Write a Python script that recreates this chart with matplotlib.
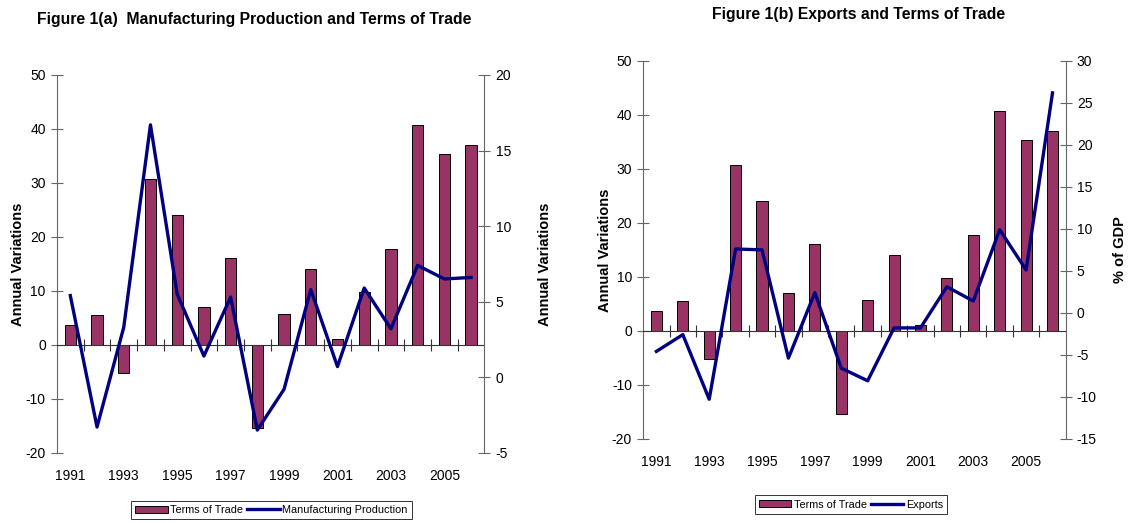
"""
Figure 1(a)/(b): terms of trade vs manufacturing production and exports
"""

import matplotlib
matplotlib.use("Agg")
import matplotlib.pyplot as plt

plt.rcParams["font.family"] = ["Liberation Sans", "DejaVu Sans"]
plt.rcParams["axes.unicode_minus"] = False

# data
# -----------------
years = [1991, 1992, 1993, 1994, 1995, 1996, 1997, 1998,
         1999, 2000, 2001, 2002, 2003, 2004, 2005, 2006]
terms_of_trade = [3.6, 5.5, -5.3, 30.7, 24.1, 7.0, 16.0, -15.5,
                  5.7, 14.1, 1.1, 9.8, 17.7, 40.8, 35.3, 37.0]
manuf_production = [5.4, -3.3, 3.3, 16.7, 5.5, 1.4, 5.3, -3.5,
                    -0.8, 5.8, 0.7, 5.9, 3.2, 7.4, 6.5, 6.6]
exports = [-4.6, -2.6, -10.3, 7.6, 7.5, -5.4, 2.4, -6.6,
           -8.1, -1.8, -1.8, 3.1, 1.4, 9.9, 5.1, 26.2]

bar_color = "#993366"
line_color = "#000080"
axis_gray = "#666666"

fig = plt.figure(figsize=(11.3, 5.23), dpi=100)


def draw_panel(rect, line_vals, right_lim, right_step, title, right_label, line_label,
               legend_xy, title_xy, right_label_x):
    ax = fig.add_axes(rect)
    x = list(range(len(years)))
    bars = ax.bar(x, terms_of_trade, width=0.42, color=bar_color,
                  edgecolor="black", linewidth=0.7, label="Terms of Trade")
    ax.set_xlim(-0.5, len(years) - 0.5)
    ax.set_ylim(-20, 50)
    ax.set_yticks(range(-20, 51, 10))

    # category axis sits on the zero line
    for side in ["top", "right"]:
        ax.spines[side].set_visible(False)
    ax.spines["bottom"].set_position(("data", 0))
    ax.spines["bottom"].set_color("#333333")
    ax.spines["left"].set_color(axis_gray)
    ax.set_xticks([i + 0.5 for i in x[:-1]])
    ax.tick_params(axis="x", direction="inout", length=8, width=0.8,
                   color="#333333", labelbottom=False)
    ax.tick_params(axis="y", direction="inout", length=8, width=0.8,
                   color=axis_gray, labelsize=10, pad=4)

    # year labels at the bottom of the plot
    sec = ax.secondary_xaxis(0)
    sec.set_xticks(x[::2], [str(y) for y in years[::2]])
    sec.tick_params(length=0, labelsize=10, pad=12)
    sec.spines["bottom"].set_visible(False)

    ax2 = ax.twinx()
    line, = ax2.plot(x, line_vals, color=line_color, linewidth=2.4, label=line_label)
    ax2.set_ylim(*right_lim)
    ax2.set_yticks(range(right_lim[0], right_lim[1] + 1, right_step))
    for side in ["top", "left", "bottom"]:
        ax2.spines[side].set_visible(False)
    ax2.spines["right"].set_color(axis_gray)
    ax2.tick_params(axis="y", direction="inout", length=8, width=0.8,
                    color=axis_gray, labelsize=10, pad=4)

    ax.set_ylabel("Annual Variations", fontsize=10.5, fontweight="bold")
    ax.yaxis.set_label_coords(-0.075, 0.5)
    ax2.set_ylabel(right_label, fontsize=10.5, fontweight="bold")
    ax2.yaxis.set_label_coords(right_label_x, 0.5)

    fig.text(title_xy[0], title_xy[1], title, ha="center", va="center",
             fontsize=11.3, fontweight="bold")

    leg = fig.legend([bars, line], ["Terms of Trade", line_label], ncol=2,
                     loc="center", bbox_to_anchor=legend_xy, fontsize=7.8,
                     frameon=True, fancybox=False, edgecolor="black",
                     handlelength=3.0, handleheight=0.6, columnspacing=0.4,
                     handletextpad=0.2, borderpad=0.4, borderaxespad=0)
    leg.get_frame().set_linewidth(0.7)


draw_panel([0.0504, 0.1344, 0.3783, 0.7222], manuf_production, (-5, 20), 5,
           "Figure 1(a)  Manufacturing Production and Terms of Trade",
           "Annual Variations", "Manufacturing Production", (0.240, 0.025),
           (0.225, 0.962), 1.125)
draw_panel([0.5692, 0.1612, 0.3739, 0.7222], exports, (-15, 30), 5,
           "Figure 1(b) Exports and Terms of Trade",
           "% of GDP", "Exports", (0.753, 0.035), (0.760, 0.972), 1.112)

fig.savefig("out.png", dpi=100)
